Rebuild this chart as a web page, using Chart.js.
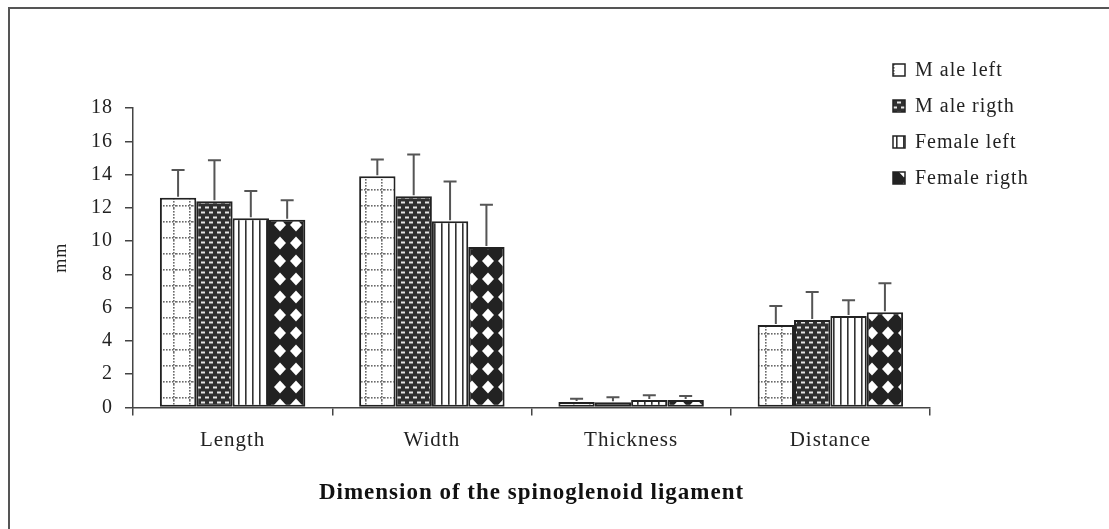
<!DOCTYPE html>
<html>
<head>
<meta charset="utf-8">
<script src="https://cdn.jsdelivr.net/npm/chart.js@4"></script>
<style>
  body { margin: 0; background: #fff; }
  #wrap { position: relative; width: 1109px; height: 529px; overflow: hidden; }
  #frame { position: absolute; left: 8px; top: 7px; width: 1200px; height: 600px;
           border-left: 2px solid #555; border-top: 2px solid #555; }
  #chart { position: absolute; left: 0; top: 0; }
</style>
</head>
<body>
<div id="wrap">
  <div id="frame"></div>
  <canvas id="chart" width="1109" height="529"></canvas>
</div>
<script>
// データ
const categories = ["Length", "Width", "Thickness", "Distance"];
const seriesNames = ["M ale left", "M ale rigth", "Female left", "Female rigth"];

const maleLeft = [12.6, 13.9, 0.33, 4.96];
const maleRight = [12.4, 12.7, 0.32, 5.26];
const femaleLeft = [11.37, 11.19, 0.45, 5.5];
const femaleRight = [11.29, 9.65, 0.45, 5.72];

// 標準偏差（エラーバーの上側）
const maleLeftSd = [1.68, 1.0, 0.2, 1.14];
const maleRightSd = [2.46, 2.51, 0.3, 1.68];
const femaleLeftSd = [1.64, 2.4, 0.28, 0.94];
const femaleRightSd = [1.16, 2.54, 0.24, 1.74];

const yTicks = [0, 2, 4, 6, 8, 10, 12, 14, 16, 18];

// 塗りパターンを作る
function makePattern(w, h, draw) {
  const c = document.createElement("canvas");
  c.width = w;
  c.height = h;
  const g = c.getContext("2d");
  draw(g, w, h);
  return g.createPattern(c, "repeat");
}

// 点線の格子
const dotGrid = makePattern(16, 16, (g, w, h) => {
  g.fillStyle = "#fff";
  g.fillRect(0, 0, w, h);
  g.fillStyle = "#6a6a6a";
  for (let i = 0; i < 16; i += 3) {
    g.fillRect(i, 13, 1.6, 1.6);
    g.fillRect(13, i, 1.6, 1.6);
  }
});

// 濃い地に白い短い線
const brick = makePattern(8, 10, (g, w, h) => {
  g.fillStyle = "#303030";
  g.fillRect(0, 0, w, h);
  g.fillStyle = "#e6e6e6";
  g.fillRect(1, 1.5, 4, 2);
  g.fillRect(5, 6.5, 4, 2);
  g.fillRect(-3, 6.5, 4, 2);
});

// 縦線
const stripes = makePattern(7, 4, (g, w, h) => {
  g.fillStyle = "#fff";
  g.fillRect(0, 0, w, h);
  g.fillStyle = "#333";
  g.fillRect(0, 0, 1.6, h);
});

// 黒地に白いひし形
const diamonds = makePattern(16, 18, (g, w, h) => {
  g.fillStyle = "#222";
  g.fillRect(0, 0, w, h);
  g.fillStyle = "#fff";
  g.beginPath();
  g.moveTo(8, 2.5);
  g.lineTo(14, 9);
  g.lineTo(8, 15.5);
  g.lineTo(2, 9);
  g.closePath();
  g.fill();
});

const fills = [dotGrid, brick, stripes, diamonds];
const values = [maleLeft, maleRight, femaleLeft, femaleRight];
const sds = [maleLeftSd, maleRightSd, femaleLeftSd, femaleRightSd];

// 文字間を少し広げる（元図の文字幅に合わせる）
const spacing = {
  id: "spacing",
  beforeUpdate(chart) { chart.ctx.letterSpacing = "1px"; }
};

// エラーバー
const errorBars = {
  id: "errorBars",
  afterDatasetsDraw(chart) {
    const ctx = chart.ctx;
    const y = chart.scales.y;
    ctx.save();
    ctx.strokeStyle = "#555";
    ctx.lineWidth = 2;
    chart.data.datasets.forEach((ds, i) => {
      chart.getDatasetMeta(i).data.forEach((bar, j) => {
        const top = y.getPixelForValue(ds.data[j] + ds.sd[j]);
        ctx.beginPath();
        ctx.moveTo(bar.x, bar.y - 1);
        ctx.lineTo(bar.x, top);
        ctx.moveTo(bar.x - 6.5, top);
        ctx.lineTo(bar.x + 6.5, top);
        ctx.stroke();
      });
    });
    ctx.restore();
  }
};

// 右上の凡例
const sideLegend = {
  id: "sideLegend",
  afterDraw(chart) {
    const ctx = chart.ctx;
    ctx.save();
    ctx.font = "20px 'Liberation Serif'";
    ctx.textBaseline = "middle";
    chart.data.datasets.forEach((ds, i) => {
      const cy = 70 + i * 36;
      ctx.fillStyle = ds.backgroundColor;
      ctx.fillRect(893, cy - 6, 12, 12);
      ctx.strokeStyle = "#222";
      ctx.lineWidth = 1.5;
      ctx.strokeRect(893, cy - 6, 12, 12);
      ctx.fillStyle = "#222";
      ctx.fillText(ds.label, 915, cy + 1);
    });
    ctx.restore();
  }
};

new Chart(document.getElementById("chart"), {
  type: "bar",
  data: {
    labels: categories,
    datasets: seriesNames.map((name, i) => ({
      label: name,
      data: values[i],
      sd: sds[i],
      backgroundColor: fills[i],
      borderColor: "#222",
      borderWidth: 2,
      borderSkipped: false,
      categoryPercentage: 0.73,
      barPercentage: 1
    }))
  },
  options: {
    responsive: false,
    animation: false,
    devicePixelRatio: 1,
    layout: { padding: { left: 9, right: 179, top: 108, bottom: 0 } },
    plugins: {
      legend: { display: false },
      tooltip: { enabled: false }
    },
    scales: {
      x: {
        afterFit(scale) { scale.height = 121.5; },
        grid: { drawOnChartArea: false, tickLength: 8, color: "#444", lineWidth: 1.5 },
        border: { color: "#444", width: 1.5 },
        ticks: { padding: 12, color: "#222", font: { family: "Liberation Serif", size: 21 } },
        title: {
          display: true,
          text: "Dimension of the spinoglenoid ligament",
          color: "#111",
          font: { family: "Liberation Serif", size: 23, weight: "bold" },
          padding: { top: 0, bottom: 22 }
        }
      },
      y: {
        min: yTicks[0],
        max: yTicks[yTicks.length - 1],
        afterBuildTicks(scale) { scale.ticks = yTicks.map(v => ({ value: v })); },
        afterFit(scale) { scale.width = 124; },
        grid: { drawOnChartArea: false, tickLength: 8, color: "#444", lineWidth: 1.5 },
        border: { color: "#444", width: 1.5 },
        ticks: { padding: 12, color: "#222", font: { family: "Liberation Serif", size: 20 } },
        title: {
          display: true,
          text: "mm",
          color: "#222",
          font: { family: "Liberation Serif", size: 18 },
          padding: { top: 41, bottom: 0 }
        }
      }
    }
  },
  plugins: [spacing, errorBars, sideLegend]
});
</script>
</body>
</html>
